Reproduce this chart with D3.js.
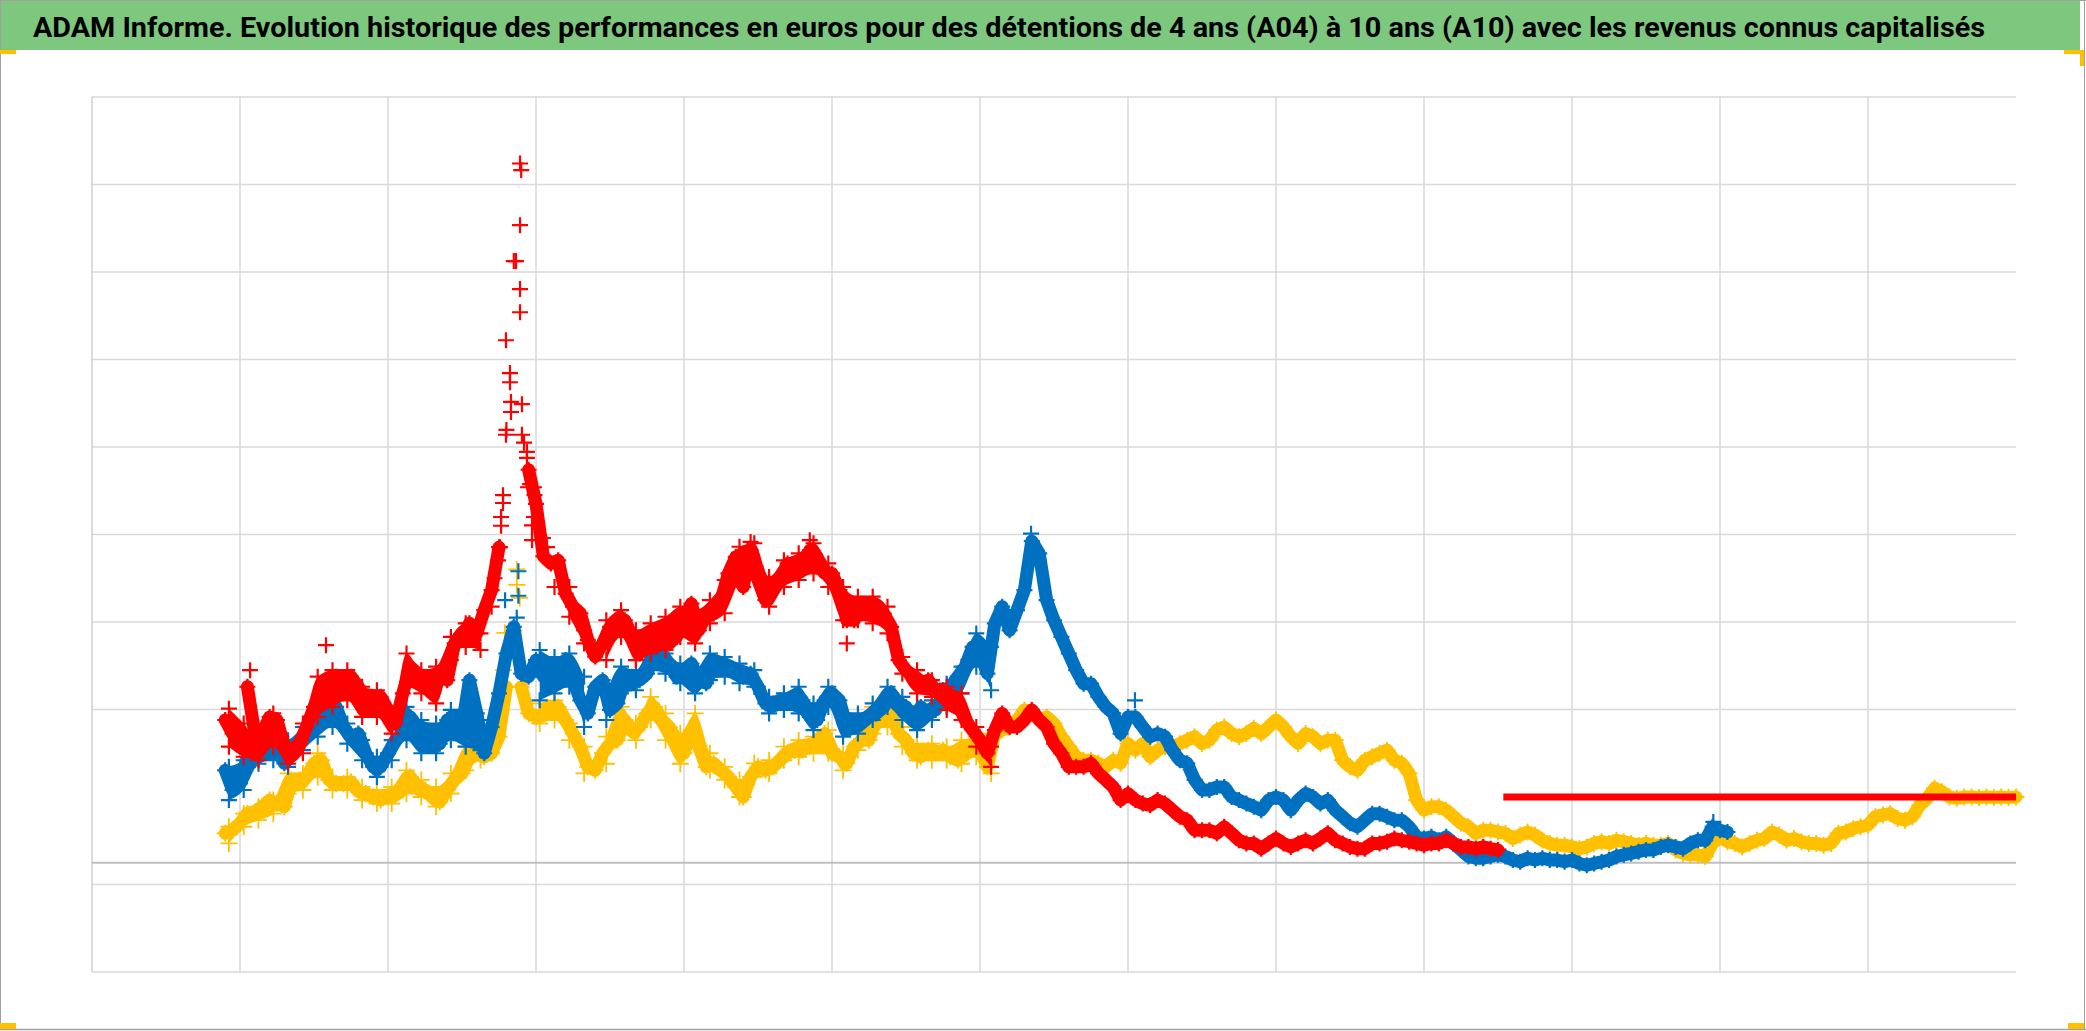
<!DOCTYPE html>
<html><head><meta charset="utf-8">
<script src="https://cdn.jsdelivr.net/npm/d3@7"></script>
<style>html,body{margin:0;padding:0;background:#fff;} svg{display:block}</style>
</head><body>
<svg id="chart" width="2086" height="1031"></svg>
<script>
const title = "ADAM Informe. Evolution historique des performances en euros pour des détentions de 4 ans (A04) à 10 ans (A10) avec les revenus connus capitalisés";

// x position of first sample and sampling step (in grid-interval units)
const xStart = 0.90;
const xStep = 0.05;
const xGridTicks = [0,1,2,3,4,5,6,7,8,9,10,11,12];
const yGridTicks = [-25,-5,35,55,75,95,115,135,155,175];
const zeroLine = 0;

// red series (longest holding)
const seriesRed = [
32.6,29.5,26.5,40.2,29.5,29.5,33.3,32.6,26.5,25.7,27.2,31.0,35.6,40.2,41.7,42.5,40.9,42.5,40.2,37.1,
34.9,37.9,34.9,31.8,38.7,44.8,43.2,40.9,40.9,43.2,41.7,50.1,50.9,54.7,52.4,57.7,62.3,72.1,98.9,137.5,
158.3,89.8,82.0,70.0,68.4,69.1,61.5,58.5,57.0,50.9,47.1,
50.1,53.9,55.4,55.4,51.6,47.8,49.3,52.4,52.4,50.1,51.6,55.4,59.2,53.1,56.9,56.9,60.0,66.1,69.9,63.0,
71.4,64.6,60.0,62.3,64.6,68.4,68.4,66.9,71.4,68.4,66.1,66.1,62.3,55.4,55.4,59.2,59.2,56.9,56.9,53.9,
46.3,44.0,42.5,41.0,41.7,39.4,39.4,37.1,36.4,32.6,30.3,28.0,25.0,30.3,
34.1,31.0,31.0,32.6,34.9,32.6,31.0,27.2,25.0,21.9,21.9,21.9,22.7,20.4,18.9,17.3,14.3,15.8,14.3,13.5,
13.1,14.3,13.5,12.0,10.5,9.7,7.4,7.4,7.4,6.7,8.2,6.7,5.1,4.4,4.4,3.2,4.4,5.5,4.4,3.6,
4.4,5.1,4.4,5.5,6.7,5.1,4.4,3.6,3.2,3.2,4.4,4.4,4.8,5.5,
5.1,4.8,4.4,4.0,4.4,4.4,5.1,4.4,3.6,3.6,3.2,3.6,3.2,2.9
];
// blue series
const seriesBlue = [
21.1,16.6,18.1,24.2,23.4,25.0,26.5,25.7,22.7,25.7,28.0,29.5,33.3,34.1,33.3,35.6,31.0,28.8,29.5,25.0,
21.9,21.9,25.0,28.0,29.5,33.3,31.0,28.8,28.0,27.2,32.6,31.8,31.0,41.7,34.1,25.0,31.0,38.7,47.8,53.9,
43.2,42.5,46.3,42.5,41.7,44.8,46.3,41.7,37.1,34.1,40.2,
41.7,34.9,36.4,41.7,42.5,41.7,43.2,48.6,47.8,45.5,42.5,44.0,45.5,41.7,41.0,45.5,44.8,44.8,44.0,42.5,
43.2,40.2,36.4,36.4,37.1,37.1,36.4,37.1,33.3,32.6,37.1,38.7,37.1,31.0,31.0,31.8,33.3,34.1,35.6,38.7,
36.4,35.6,32.6,35.6,34.1,34.9,37.9,40.2,42.5,44.8,49.3,47.8,43.2,54.7,
58.5,53.1,57.7,62.3,73.5,70.7,60.0,55.4,51.6,47.8,44.0,40.9,40.9,37.9,35.6,34.1,29.5,33.3,33.3,31.0,
28.8,29.5,28.8,25.7,23.4,22.7,18.9,16.6,16.6,17.3,17.3,15.0,14.3,13.5,12.8,12.0,14.3,15.0,14.3,12.0,
14.3,15.8,15.0,13.5,14.3,12.0,10.5,9.0,8.2,9.7,11.2,11.2,10.5,9.7,
9.7,8.2,5.9,5.5,5.9,5.1,5.9,4.4,2.9,1.4,1.0,1.0,1.4,1.8,1.4,0.6,0.2,1.0,0.6,1.0,
0.6,0.6,0.2,0.6,-0.2,-0.6,-0.2,0.2,0.6,1.4,1.8,2.1,2.5,2.9,2.9,3.6,4.0,3.6,3.2,4.4,
5.1,5.1,8.2,7.4,7.0
];
// yellow series (shortest holding)
const seriesYellow = [
6.7,7.4,9.0,11.3,11.6,12.8,14.3,13.5,12.8,18.9,18.9,19.6,22.7,23.4,18.9,18.1,18.1,18.5,16.2,15.8,
15.0,14.3,15.0,15.4,16.6,19.6,17.3,16.6,15.0,13.9,16.6,18.9,20.4,24.2,25.0,24.2,25.0,28.8,40.2,53.1,
40.2,34.1,33.3,34.1,34.9,35.6,32.6,29.5,26.5,21.9,21.1,
25.0,27.2,28.0,32.6,30.3,31.0,34.1,35.6,32.6,31.0,28.0,25.0,30.3,26.5,21.9,22.7,21.1,19.6,17.3,15.0,
19.6,21.9,21.1,21.9,23.4,25.0,25.7,25.7,26.5,28.0,29.5,25.0,24.2,22.7,26.5,28.0,28.0,32.6,34.1,34.1,
29.5,28.0,25.0,24.2,25.7,25.0,25.7,24.2,23.4,25.0,26.5,25.7,21.9,29.5,
30.3,31.0,32.6,34.9,34.1,32.6,33.3,31.8,28.8,26.5,24.2,23.4,23.4,22.7,21.9,23.4,22.7,27.2,25.7,27.2,
24.2,25.7,26.5,26.5,27.2,28.0,28.8,27.2,28.0,30.3,31.0,29.5,28.8,29.5,30.7,29.5,31.0,32.6,31.0,28.8,
27.2,29.5,28.8,27.2,28.0,28.0,23.4,21.9,21.1,23.4,24.2,25.0,25.7,23.4,
22.7,20.4,14.3,12.0,12.8,12.8,12.0,10.5,9.0,8.2,6.7,7.4,7.4,7.0,6.7,5.5,6.3,7.0,6.3,5.1,
4.4,4.0,4.0,3.6,3.2,3.6,4.4,4.8,4.4,5.1,4.8,4.4,4.0,4.4,4.0,4.0,4.4,2.9,2.1,1.8,
1.8,1.4,4.4,5.9,4.8,4.4,3.6,4.4,5.1,5.5,7.0,6.3,5.1,5.5,
4.8,4.4,4.4,4.0,4.4,6.7,7.0,7.8,8.2,8.6,10.5,10.9,11.2,10.1,9.7,10.5,13.1,14.7,17.0,16.2,
15.0,14.7,15.0,15.0,14.9,15.0,14.9,15.0,14.9,15.0
];

// upper / lower edges of the point clouds in the volatile early period (step 0.1)
const cloudStartA = 0.925, cloudStartB = 3.475, cloudStep = 0.1;
const redHiA = [35.2,31.8,28.0,34.1,27.2,31.8,42.5,44.0,44.0,40.2,39.4,34.1,47.8,44.0,44.8,51.6,54.7,52.4,null,null,null,null,null,63.0,53.1];
const redLoA = [26.5,24.2,23.4,26.5,22.6,25.0,33.3,35.6,37.1,33.3,33.3,29.5,40.2,38.7,36.4,46.3,49.3,48.6,null,null,null,null,63.0,56.2,50.1];
const blueHiA = [21.9,23.4,26.5,27.2,28.0,31.0,34.9,37.1,31.8,28.0,24.2,28.0,35.6,32.6,31.8,34.9,34.9,32.6,null,null,null,48.6,47.0,47.8,42.5];
const blueLoA = [14.3,16.6,22.6,23.4,21.9,25.7,28.8,31.0,27.2,23.4,19.6,23.4,28.0,25.0,25.0,28.0,26.5,25.7,null,null,null,37.1,38.7,40.2,31.0];
const yellowHiA = [8.2,11.2,12.8,14.3,20.4,20.4,25.0,19.6,19.6,17.3,16.6,17.3,21.1,18.9,17.3,20.4,26.5,26.5,null,null,null,36.4,37.1,31.8,26.5];
const yellowLoA = [4.4,8.2,9.7,11.2,15.8,16.6,19.6,16.6,16.6,14.3,13.5,13.5,15.8,15.0,12.8,15.8,21.1,23.4,null,null,null,31.8,32.6,28.0,20.4];
const redHiB = [55.4,57.7,53.1,54.7,56.2,58.5,57.7,60.0,64.6,72.2,73.0,65.3,69.1,70.7,73.0,68.4,63.0,60.8,60.8,58.5,47.0,44.0,41.7,40.2,38.7,31.0,26.5];
const redLoB = [46.3,51.6,46.3,47.8,48.6,51.6,50.1,54.7,57.0,64.6,67.6,58.5,63.0,64.6,66.1,63.0,55.4,55.4,54.7,52.4,43.2,38.7,37.9,34.9,32.6,26.5,21.9];
const blueHiB = [38.7,44.8,44.0,48.6,47.8,45.5,44.0,47.8,47.0,45.5,44.0,37.9,38.7,40.2,36.4,40.2,34.1,34.1,36.4,40.2,37.9,35.6,37.1,40.9,44.8,52.4,49.3];
const blueLoB = [32.6,38.7,39.4,44.0,43.2,41.0,38.7,41.7,42.5,41.0,40.2,34.1,34.9,34.1,30.3,35.6,28.8,29.5,32.6,35.6,32.6,30.3,32.6,35.6,38.7,44.8,39.4];
const yellowHiB = [28.8,35.6,31.8,37.9,34.1,29.5,34.1,25.0,21.9,18.9,22.7,23.4,26.5,28.0,28.8,30.3,25.0,29.5,35.6,35.6,31.0,27.2,27.2,26.5,28.0,28.8,29.5];
const yellowLoB = [22.6,29.5,28.0,32.6,28.0,22.6,27.2,21.1,18.9,15.0,19.6,20.4,23.4,24.2,25.0,25.0,21.1,25.7,29.5,31.0,26.5,23.4,23.4,23.4,22.6,24.2,20.4];

// isolated points (x in grid units, value)
const extraRed = [
[2.70,58.5],[2.72,65.0],[2.743,69.1],[2.757,72.1],[2.764,77.0],[2.764,79.0],[2.777,82.2],[2.777,84.0],
[2.797,97.8],[2.797,119.4],[2.824,109.8],[2.824,111.9],[2.831,103.0],[2.831,105.3],[2.865,137.5],
[2.892,131.1],[2.892,125.8],[2.892,145.7],[2.892,159.8],[2.905,104.8],[2.905,97.8],[2.919,96.0],
[2.939,93.9],[2.939,92.5],[2.946,85.8],[2.96,86.5],[2.99,84.0],[2.986,85.8],[2.986,79.0],[2.973,77.1],
[2.973,73.7],[3.047,74.2],[3.074,72.1],[1.581,49.7],[1.068,44.0],[5.10,50.1],[4.85,73.7],[4.45,73.3]
];
const extraBlue = [[2.881,66.6],[2.881,61.0],[2.791,60.0],[2.87,56.0],[6.345,75.2],[7.047,37.1],[10.955,9.3]];
const extraYellow = [[2.87,67.0],[2.87,63.5],[2.89,60.5],[2.79,52.5],[2.78,44.0]];
// constant tail of the red series
const flatRed = [[9.536,15.0],[13.0,15.0]];

const svg = d3.select("#chart");
const W = 2086, H = 1031;
const x = d3.scaleLinear().domain([0,13]).range([92,2016]);
const y = d3.scaleLinear().domain([-25,175]).range([972,97]);

svg.append("rect").attr("width",W).attr("height",H).attr("fill","#fff");

// title band
svg.append("rect").attr("x",0).attr("y",0).attr("width",2080).attr("height",50).attr("fill","#7dc87e");
svg.append("text").text(title)
  .attr("x",33).attr("y",37)
  .attr("font-family","'Liberation Sans Narrow','Arial Narrow','Roboto',sans-serif")
  .attr("font-weight","bold").attr("font-size",28).attr("fill","#000")
  .attr("textLength",1952).attr("lengthAdjust","spacingAndGlyphs");

// frame lines
svg.append("line").attr("x1",0.5).attr("x2",0.5).attr("y1",0).attr("y2",1030).attr("stroke","#a0a0a0");
svg.append("line").attr("x1",0).attr("x2",2086).attr("y1",0.5).attr("y2",0.5).attr("stroke","#a0a0a0");
svg.append("line").attr("x1",0).attr("x2",2086).attr("y1",1029.5).attr("y2",1029.5).attr("stroke","#a0a0a0").attr("stroke-width",1.5);
svg.append("line").attr("x1",2084.5).attr("x2",2084.5).attr("y1",0).attr("y2",1030).attr("stroke","#a0a0a0");
// selection handles
const hcol = "#ffc000";
svg.append("rect").attr("x",0).attr("y",50).attr("width",16).attr("height",4).attr("fill",hcol);
svg.append("rect").attr("x",2064).attr("y",50).attr("width",20).attr("height",4).attr("fill",hcol);
svg.append("rect").attr("x",2080).attr("y",50).attr("width",4).attr("height",16).attr("fill",hcol);
svg.append("rect").attr("x",0).attr("y",1023).attr("width",16).attr("height",6).attr("fill",hcol);
svg.append("rect").attr("x",2068).attr("y",1023).attr("width",16).attr("height",6).attr("fill",hcol);

// grid
const grid = svg.append("g");
grid.selectAll(".hg").data(yGridTicks).join("line")
  .attr("x1",x(0)).attr("x2",x(13)).attr("y1",d=>y(d)).attr("y2",d=>y(d))
  .attr("stroke","#d9d9d9").attr("stroke-width",1.5);
grid.selectAll(".vg").data(xGridTicks).join("line")
  .attr("x1",d=>x(d)).attr("x2",d=>x(d)).attr("y1",y(175)).attr("y2",y(-25))
  .attr("stroke",d=>d===0?"#cfcfcf":"#d9d9d9").attr("stroke-width",1.5);
grid.append("line").attr("x1",x(0)).attr("x2",x(13)).attr("y1",y(zeroLine)).attr("y2",y(zeroLine))
  .attr("stroke","#bfbfbf").attr("stroke-width",2);

function toPoints(arr, start, step){ return arr.map((v,i)=>[start+i*step, v]); }
function plus(h){ return `M${-h},0H${h}M0,${-h}V${h}`; }
function segments(pts, jump){
  const segs=[]; let cur=[pts[0]];
  for(let i=1;i<pts.length;i++){
    if(Math.abs(pts[i][1]-pts[i-1][1])>jump){ segs.push(cur); cur=[pts[i]]; }
    else cur.push(pts[i]);
  }
  segs.push(cur); return segs.filter(s=>s.length>1);
}
const lineGen = d3.line().x(d=>x(d[0])).y(d=>y(d[1]));
const areaGen = d3.area().defined(d=>d.hi!=null && d.lo!=null)
  .x(d=>x(d.x)).y0(d=>y(d.lo)).y1(d=>y(d.hi)).curve(d3.curveMonotoneX);
function cloud(hi, lo, start){ return hi.map((h,i)=>({x:start+i*cloudStep, hi:h, lo:lo[i]})); }

function drawSeries(arr, extra, clouds, color, h, sw, bandW){
  const pts = toPoints(arr, xStart, xStep);
  const g = svg.append("g");
  clouds.forEach(c=>{
    g.append("path").datum(c).attr("d",areaGen).attr("fill",color);
  });
  g.selectAll("path.band").data(segments(pts, 12.5)).join("path").attr("class","band")
    .attr("d",lineGen).attr("stroke",color).attr("stroke-width",bandW)
    .attr("stroke-linejoin","round").attr("stroke-linecap","round").attr("fill","none");
  const edgePts = [];
  clouds.forEach(c=>c.forEach(d=>{ if(d.hi!=null) edgePts.push([d.x,d.hi]); if(d.lo!=null) edgePts.push([d.x,d.lo]); }));
  g.selectAll("path.mk").data(pts.concat(extra, edgePts)).join("path").attr("class","mk")
    .attr("transform",d=>`translate(${x(d[0])},${y(d[1])})`)
    .attr("d",plus(h)).attr("stroke",color).attr("stroke-width",sw).attr("fill","none");
}
drawSeries(seriesYellow, extraYellow, [cloud(yellowHiA,yellowLoA,cloudStartA), cloud(yellowHiB,yellowLoB,cloudStartB)], "#ffc000", 8.5, 1.8, 13);
// constant red tail (drawn over the yellow, as in the picture)
svg.append("path").datum(flatRed)
  .attr("d",lineGen)
  .attr("stroke","#ff0000").attr("stroke-width",7).attr("fill","none");
drawSeries(seriesBlue, extraBlue, [cloud(blueHiA,blueLoA,cloudStartA), cloud(blueHiB,blueLoB,cloudStartB)], "#0070c0", 8, 2.2, 13);
drawSeries(seriesRed, extraRed, [cloud(redHiA,redLoA,cloudStartA), cloud(redHiB,redLoB,cloudStartB)], "#ff0000", 8, 2.2, 13);
</script>
</body></html>
